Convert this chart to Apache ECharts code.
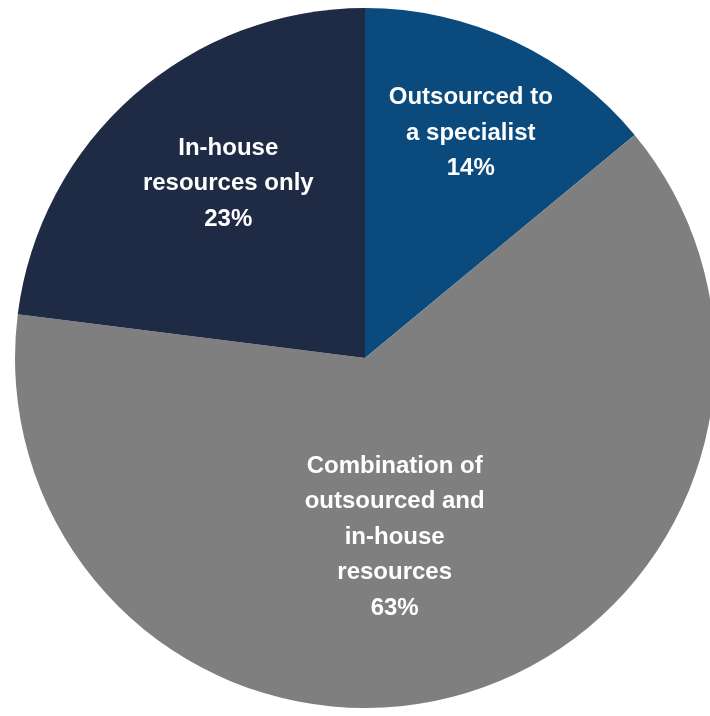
<!DOCTYPE html>
<html>
<head>
<meta charset="utf-8">
<script src="https://cdn.jsdelivr.net/npm/echarts@6/dist/echarts.min.js"></script>
<style>
  html, body { margin: 0; padding: 0; background: #ffffff; }
  #chart { width: 710px; height: 716px; }
</style>
</head>
<body>
<div id="chart"></div>
<script>
// Share of respondents by how the work is resourced
const categories = [
  'Outsourced to\na specialist',
  'Combination of\noutsourced and\nin-house\nresources',
  'In-house\nresources only'
];
const shares = [14, 63, 23];
const sliceColors = ['#0b4a7d', '#7f7f7f', '#1f2a45'];
// Nudges that move each label from the slice's mid-radius point
const labelShift = [[30, -64], [-20, 8], [-19, -41]];

const chart = echarts.init(document.getElementById('chart'));

chart.setOption({
  animation: false,
  backgroundColor: '#ffffff',
  series: [{
    type: 'pie',
    center: [365, 358],
    radius: [0, 350],
    startAngle: 90,
    clockwise: true,
    silent: true,
    data: categories.map((name, i) => ({
      name: name,
      value: shares[i],
      itemStyle: { color: sliceColors[i] }
    })),
    itemStyle: { borderWidth: 0 },
    label: {
      show: true,
      position: 'inside',
      formatter: p => p.name + '\n' + p.value + '%',
      color: '#ffffff',
      fontFamily: '"Liberation Sans", Arial, sans-serif',
      fontWeight: 'bold',
      fontSize: 24,
      lineHeight: 35.5,
      align: 'center'
    },
    labelLine: { show: false },
    labelLayout: params => ({
      dx: labelShift[params.dataIndex][0],
      dy: labelShift[params.dataIndex][1]
    })
  }]
});
</script>
</body>
</html>
